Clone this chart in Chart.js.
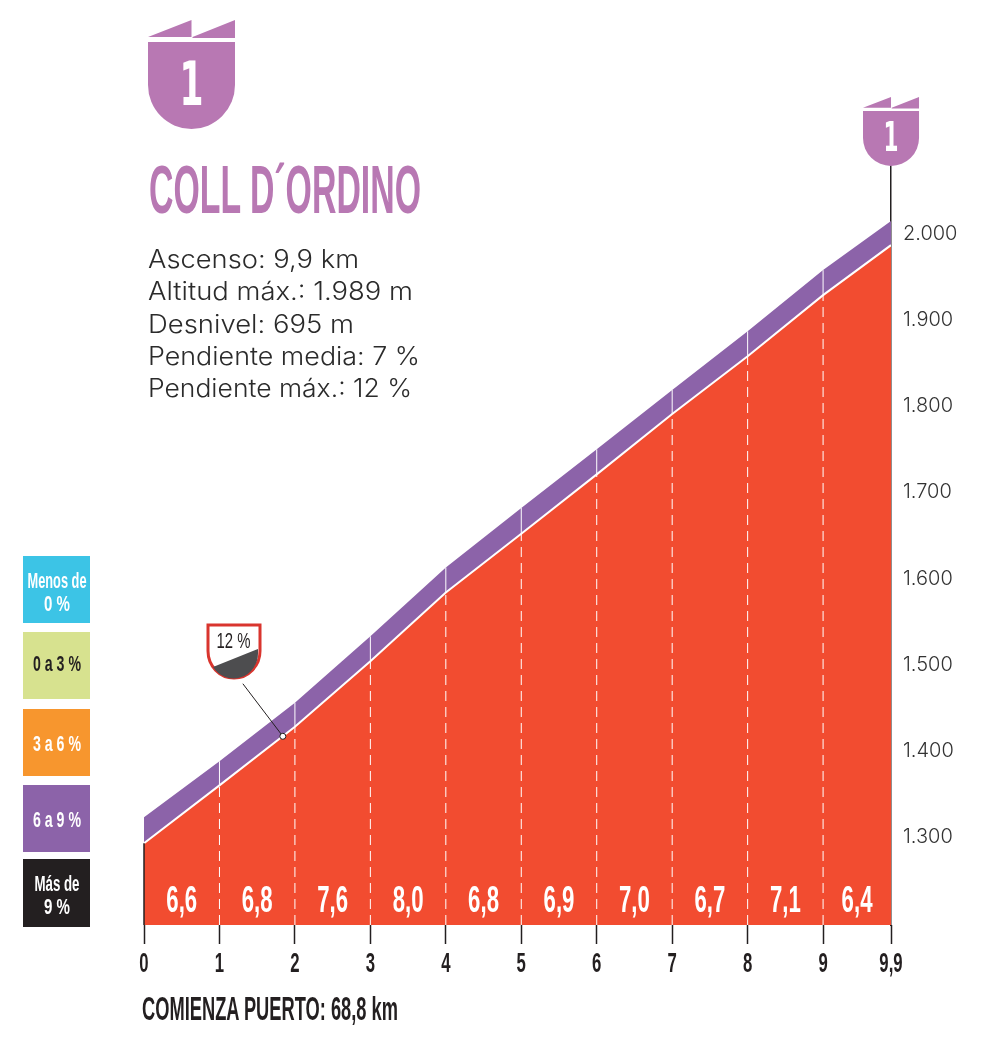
<!DOCTYPE html>
<html lang="es">
<head>
<meta charset="utf-8">
<title>Coll d'Ordino</title>
<script src="https://cdn.jsdelivr.net/npm/chart.js@4"></script>
<style>
    html, body { margin: 0; padding: 0; background: #fff; }
    #wrap { position: relative; width: 1000px; height: 1050px; overflow: hidden; }
    #perfil { position: absolute; left: 0; top: 0; }
    #capa { position: absolute; left: 0; top: 0; pointer-events: none; }
    .narrow { font-family: "Liberation Sans", sans-serif; font-weight: 700; }
    .datos { font-family: Inter, sans-serif; font-weight: 300; font-size: 25px; fill: #2b2b2b; }
</style>
</head>
<body>
<div id="wrap">
    <canvas id="perfil" width="1000" height="1050"></canvas>
    <svg id="capa" width="1000" height="1050" viewBox="0 0 1000 1050">
        <defs>
            <g id="escudo">
                <path d="M0 17 L43.5 0 L43.5 17 Z M44.5 17 L87 0 L87 18 L44.5 18 Z" fill="#b878b3"/>
                <path d="M0 22 H87 V65 A43.5 44 0 0 1 0 65 Z" fill="#b878b3"/>
            </g>
        </defs>

        <use href="#escudo" x="148" y="20"/>
        <text x="191.5" y="105" text-anchor="middle" font-family="DejaVu Sans" font-weight="700" font-size="60" fill="#fff" textLength="24" lengthAdjust="spacingAndGlyphs">1</text>

        <use href="#escudo" transform="translate(863 97) scale(0.644 0.632)"/>
        <text x="891" y="151" text-anchor="middle" font-family="DejaVu Sans" font-weight="700" font-size="40" fill="#fff" textLength="15" lengthAdjust="spacingAndGlyphs">1</text>

        <text class="narrow" x="149" y="213" font-size="69" fill="#b878b3" textLength="272" lengthAdjust="spacingAndGlyphs">COLL D´ORDINO</text>

        <text class="datos" x="148" y="268" textLength="211" lengthAdjust="spacingAndGlyphs">Ascenso: 9,9 km</text>
        <text class="datos" x="148" y="300" textLength="265" lengthAdjust="spacingAndGlyphs">Altitud máx.: 1.989 m</text>
        <text class="datos" x="148" y="333" textLength="206" lengthAdjust="spacingAndGlyphs">Desnivel: 695 m</text>
        <text class="datos" x="148" y="365" textLength="272" lengthAdjust="spacingAndGlyphs">Pendiente media: 7 %</text>
        <text class="datos" x="148" y="397" textLength="264" lengthAdjust="spacingAndGlyphs">Pendiente máx.: 12 %</text>

        <rect x="23" y="556" width="67" height="67" fill="#3cc4e6"/>
        <text class="narrow" x="57" y="588" text-anchor="middle" font-size="22" fill="#fff" textLength="59" lengthAdjust="spacingAndGlyphs">Menos de</text>
        <text class="narrow" x="57" y="611" text-anchor="middle" font-size="22" fill="#fff" textLength="26" lengthAdjust="spacingAndGlyphs">0 %</text>

        <rect x="23" y="632" width="67" height="67" fill="#d7e28f"/>
        <text class="narrow" x="57" y="671" text-anchor="middle" font-size="22" fill="#231f20" textLength="48" lengthAdjust="spacingAndGlyphs">0 a 3 %</text>

        <rect x="23" y="709" width="67" height="67" fill="#f7962e"/>
        <text class="narrow" x="57" y="751" text-anchor="middle" font-size="22" fill="#fff" textLength="48" lengthAdjust="spacingAndGlyphs">3 a 6 %</text>

        <rect x="23" y="785" width="67" height="67" fill="#8c63a9"/>
        <text class="narrow" x="57" y="827" text-anchor="middle" font-size="22" fill="#fff" textLength="48" lengthAdjust="spacingAndGlyphs">6 a 9 %</text>

        <rect x="23" y="859" width="67" height="68" fill="#231f20"/>
        <text class="narrow" x="57" y="891" text-anchor="middle" font-size="22" fill="#fff" textLength="45" lengthAdjust="spacingAndGlyphs">Más de</text>
        <text class="narrow" x="57" y="914" text-anchor="middle" font-size="22" fill="#fff" textLength="26" lengthAdjust="spacingAndGlyphs">9 %</text>

        <path d="M208 625 H260 V651 A26 27 0 0 1 208 651 Z" fill="#fff" stroke="#d9352e" stroke-width="3"/>
        <path d="M213 667 L258 649 V652 A24.5 25.5 0 0 1 213 667 Z" fill="#4d4d4f"/>
        <text x="233.5" y="648" text-anchor="middle" font-family="Liberation Sans" font-size="22" fill="#231f20" textLength="34" lengthAdjust="spacingAndGlyphs">12 %</text>

        <text class="narrow" x="142" y="1020" font-size="33" fill="#231f20" textLength="256" lengthAdjust="spacingAndGlyphs">COMIENZA PUERTO: 68,8 km</text>
    </svg>
</div>

<script>
//-------------------------- datos --------------------------
const kms = [0, 1, 2, 3, 4, 5, 6, 7, 8, 9, 9.9];
const altitud = [1293, 1360, 1428, 1504, 1584, 1652, 1721, 1791, 1858, 1929, 1987];
const franja = [1323, 1388, 1456, 1533, 1613, 1682, 1750, 1819, 1887, 1958, 2015];
const pendientes = ["6,6", "6,8", "7,6", "8,0", "6,8", "6,9", "7,0", "6,7", "7,1", "6,4"];

const xTicks = [0, 1, 2, 3, 4, 5, 6, 7, 8, 9, 9.9];
const xLabels = ["0", "1", "2", "3", "4", "5", "6", "7", "8", "9", "9,9"];
const yTicks = [1300, 1400, 1500, 1600, 1700, 1800, 1900, 2000];
const yLabels = ["1.300", "1.400", "1.500", "1.600", "1.700", "1.800", "1.900", "2.000"];

const yMin = 1198;
const yMax = 2080;

// punto del 12 % y final de la linea que sube al escudo
const marcaKm = [1.84, 1.31];
const marcaAlt = [1417, 1478];

const MORADO = "#8c63a9";
const ROJO = "#f24c30";

function puntos(xs, ys) {
    return xs.map((x, i) => ({ x: x, y: ys[i] }));
}

//-------------------------- separadores por km --------------------------
const separadores = [];
for (let i = 1; i < kms.length - 1; i++) {
    separadores.push({
        data: puntos([kms[i], kms[i]], [yMin, altitud[i]]),
        borderColor: "#fff",
        borderWidth: 1,
        borderDash: [10, 6],
        pointRadius: 0,
        fill: false,
        order: 1,
    });
    separadores.push({
        data: puntos([kms[i], kms[i]], [altitud[i], franja[i]]),
        borderColor: "#fff",
        borderWidth: 1,
        pointRadius: 0,
        fill: false,
        order: 1,
    });
}

//-------------------------- textos estrechos (no hay fuente condensada) --------------------------
function textoEstrecho(ctx, texto, x, y, color, size, escala) {
    ctx.save();
    ctx.fillStyle = color;
    ctx.textAlign = "center";
    ctx.textBaseline = "alphabetic";
    ctx.font = `700 ${size}px 'Liberation Sans'`;
    ctx.translate(x, y);
    ctx.scale(escala, 1);
    ctx.fillText(texto, 0, 0);
    ctx.restore();
}

const textosPerfil = {
    id: "textosPerfil",
    afterDatasetsDraw(chart) {
        const ctx = chart.ctx;
        const x = chart.scales.x;
        pendientes.forEach((p, i) => {
            const centro = (x.getPixelForValue(kms[i]) + x.getPixelForValue(kms[i + 1])) / 2;
            textoEstrecho(ctx, p, centro, 912, "#fff", 37, 0.6);
        });
        xTicks.forEach((v, i) => {
            textoEstrecho(ctx, xLabels[i], x.getPixelForValue(v), 972, "#231f20", 27, 0.62);
        });
    },
};

new Chart(document.getElementById("perfil"), {
    type: "line",
    data: {
        datasets: [
            {
                data: puntos(marcaKm, marcaAlt),
                borderColor: "#231f20",
                borderWidth: 1,
                pointRadius: [3, 0],
                pointBackgroundColor: "#fff",
                pointBorderColor: "#231f20",
                pointBorderWidth: 1,
                fill: false,
                order: 0,
            },
            ...separadores,
            {
                data: puntos([0, 0], [yMin, altitud[0]]),
                borderColor: "#231f20",
                borderWidth: 1.5,
                pointRadius: 0,
                fill: false,
                clip: false,
                order: 1,
            },
            {
                data: puntos(kms, franja),
                borderWidth: 0,
                pointRadius: 0,
                backgroundColor: MORADO,
                fill: "+1",
                order: 3,
            },
            {
                data: puntos(kms, altitud),
                borderColor: "#fff",
                borderWidth: 2,
                pointRadius: 0,
                backgroundColor: ROJO,
                fill: "start",
                order: 2,
            },
        ],
    },
    options: {
        responsive: false,
        animation: false,
        layout: { padding: { left: 144, top: 165, right: 0, bottom: 0 } },
        plugins: { legend: { display: false }, tooltip: { enabled: false } },
        scales: {
            x: {
                type: "linear",
                min: 0,
                max: 9.9,
                afterBuildTicks: (axis) => {
                    axis.ticks = xTicks.map((v) => ({ value: v }));
                },
                afterFit: (axis) => {
                    axis.height = 125;
                },
                border: { display: false },
                grid: { drawOnChartArea: false, tickLength: 19, tickColor: "#231f20", tickWidth: 1.5 },
                ticks: { display: false },
            },
            y: {
                position: "right",
                min: yMin,
                max: yMax,
                afterBuildTicks: (axis) => {
                    axis.ticks = yTicks.map((v) => ({ value: v }));
                },
                afterFit: (axis) => {
                    axis.width = 109;
                },
                border: { display: true, color: "#231f20", width: 1.5 },
                grid: { display: false },
                ticks: {
                    padding: 4,
                    color: "#333",
                    font: { family: "Inter", weight: "300", size: 20 },
                    callback: (v) => yLabels[yTicks.indexOf(v)],
                },
            },
        },
    },
    plugins: [textosPerfil],
});
</script>
</body>
</html>
